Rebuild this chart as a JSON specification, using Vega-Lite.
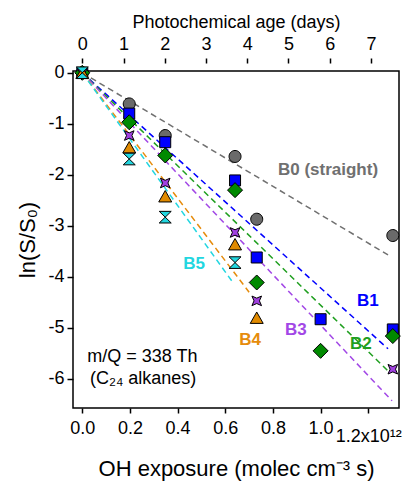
{
  "$schema": "https://vega.github.io/schema/vega-lite/v6.json",
  "width": 326,
  "height": 337,
  "autosize": "none",
  "padding": {"left": 73, "top": 71, "right": 7, "bottom": 74},
  "config": {
    "font": "Liberation Sans",
    "view": {"stroke": "black", "strokeWidth": 1.5},
    "axis": {"grid": false, "domain": false, "tickColor": "black", "labelColor": "black", "titleColor": "black", "tickWidth": 1.5, "titleFontWeight": "normal", "labelFont": "Liberation Sans", "titleFont": "Liberation Sans"}
  },
  "datasets": {
    "points": [
      {"series": "B0", "exposure": 0, "ln": 0},
      {"series": "B0", "exposure": 1.97e11, "ln": -0.61},
      {"series": "B0", "exposure": 3.48e11, "ln": -1.23},
      {"series": "B0", "exposure": 6.41e11, "ln": -1.64},
      {"series": "B0", "exposure": 7.32e11, "ln": -2.87},
      {"series": "B0", "exposure": 1.303e12, "ln": -3.19},
      {"series": "B1", "exposure": 0, "ln": 0},
      {"series": "B1", "exposure": 1.97e11, "ln": -0.8},
      {"series": "B1", "exposure": 3.48e11, "ln": -1.36},
      {"series": "B1", "exposure": 6.41e11, "ln": -2.11},
      {"series": "B1", "exposure": 7.32e11, "ln": -3.62},
      {"series": "B1", "exposure": 1.0e12, "ln": -4.83},
      {"series": "B1", "exposure": 1.303e12, "ln": -5.03},
      {"series": "B2", "exposure": 0, "ln": 0},
      {"series": "B2", "exposure": 1.97e11, "ln": -0.97},
      {"series": "B2", "exposure": 3.48e11, "ln": -1.62},
      {"series": "B2", "exposure": 6.41e11, "ln": -2.3},
      {"series": "B2", "exposure": 7.32e11, "ln": -4.11},
      {"series": "B2", "exposure": 1.0e12, "ln": -5.45},
      {"series": "B2", "exposure": 1.303e12, "ln": -5.16},
      {"series": "B3", "exposure": 0, "ln": 0},
      {"series": "B3", "exposure": 1.97e11, "ln": -1.23},
      {"series": "B3", "exposure": 3.48e11, "ln": -2.16},
      {"series": "B3", "exposure": 6.41e11, "ln": -3.13},
      {"series": "B3", "exposure": 7.32e11, "ln": -4.47},
      {"series": "B3", "exposure": 1.303e12, "ln": -5.81},
      {"series": "B4", "exposure": 0, "ln": 0},
      {"series": "B4", "exposure": 1.97e11, "ln": -1.46},
      {"series": "B4", "exposure": 3.48e11, "ln": -2.42},
      {"series": "B4", "exposure": 6.41e11, "ln": -3.36},
      {"series": "B4", "exposure": 7.32e11, "ln": -4.8},
      {"series": "B5", "exposure": 0, "ln": 0},
      {"series": "B5", "exposure": 1.97e11, "ln": -1.69},
      {"series": "B5", "exposure": 3.48e11, "ln": -2.83},
      {"series": "B5", "exposure": 6.41e11, "ln": -3.72}
    ],
    "fits": [
      {"series": "B0", "exposure": 0, "ln": 0},
      {"series": "B0", "exposure": 1.283e12, "ln": -3.57},
      {"series": "B1", "exposure": 0, "ln": 0},
      {"series": "B1", "exposure": 1.283e12, "ln": -5.41},
      {"series": "B2", "exposure": 0, "ln": 0},
      {"series": "B2", "exposure": 1.291e12, "ln": -5.88},
      {"series": "B3", "exposure": 0, "ln": 0},
      {"series": "B3", "exposure": 1.3e12, "ln": -6.43},
      {"series": "B4", "exposure": 0, "ln": 0},
      {"series": "B4", "exposure": 7.0e11, "ln": -4.3},
      {"series": "B5", "exposure": 0, "ln": 0},
      {"series": "B5", "exposure": 6.32e11, "ln": -4.11}
    ],
    "labels": [
      {"series": "B0", "text": "B0 (straight)", "exposure": 8.21e11, "ln": -1.9},
      {"series": "B1", "text": "B1", "exposure": 1.153e12, "ln": -4.47},
      {"series": "B2", "text": "B2", "exposure": 1.123e12, "ln": -5.32},
      {"series": "B3", "text": "B3", "exposure": 8.51e11, "ln": -5.04},
      {"series": "B4", "text": "B4", "exposure": 6.59e11, "ln": -5.24},
      {"series": "B5", "text": "B5", "exposure": 4.24e11, "ln": -3.74}
    ],
    "notes": [
      {"text": "m/Q = 338 Th", "exposure": 2.1e10, "ln": -5.57},
      {"text": "(C₂₄ alkanes)", "exposure": 3.2e10, "ln": -6.0}
    ]
  },
  "layer": [
    {
      "data": {"name": "fits"},
      "mark": {"type": "line", "strokeDash": [6, 4], "strokeWidth": 1.5},
      "encoding": {
        "x": {
          "field": "exposure", "type": "quantitative",
          "scale": {"domain": [-3.9e10, 1.329e12], "nice": false, "zero": false},
          "axis": {
            "orient": "top", "offset": 8, "tickSize": 5,
            "values": [0, 1.7306e11, 3.4612e11, 5.1918e11, 6.9224e11, 8.653e11, 1.03836e12, 1.21142e12],
            "labelExpr": "format(round(datum.value/1.7306e11), 'd')",
            "labelFontSize": 18, "labelPadding": 5,
            "title": "Photochemical age (days)", "titleFontSize": 18,
            "titleY": -41, "titleBaseline": "middle"
          }
        },
        "y": {
          "field": "ln", "type": "quantitative",
          "scale": {"domain": [-6.57, 0.035], "nice": false, "zero": false},
          "axis": {
            "orient": "left",
            "values": [-6, -5, -4, -3, -2, -1, 0],
            "labelExpr": "datum.value == 0 ? '0' : '-' + abs(datum.value)",
            "tickSize": 6, "labelPadding": 3, "labelFontSize": 18,
            "title": "ln(S/S₀)", "titleFontSize": 22,
            "titleX": -46, "titleBaseline": "middle"
          }
        },
        "stroke": {
          "field": "series", "type": "nominal",
          "scale": {"domain": ["B0", "B1", "B2", "B3", "B4", "B5"], "range": ["#707070", "#0000ff", "#1f9f1f", "#a247e6", "#e68c0c", "#22d6e0"]},
          "legend": null
        }
      }
    },
    {
      "data": {"name": "points"},
      "mark": {"type": "point", "filled": true, "stroke": "black", "strokeWidth": 1, "size": 144, "opacity": 1},
      "encoding": {
        "x": {
          "field": "exposure", "type": "quantitative",
          "scale": {"domain": [-3.9e10, 1.329e12], "nice": false, "zero": false},
          "axis": {
            "orient": "bottom", "tickSize": 5,
            "values": [0, 2e11, 4e11, 6e11, 8e11, 1e12, 1.2e12],
            "labelExpr": "datum.value > 1.1e12 ? '1.2x10¹²' : format(datum.value/1e12, '.1f')",
            "labelFontSize": 18,
            "labelPadding": {"condition": {"test": "datum.value > 1.1e12", "value": 14}, "value": 6},
            "title": "OH exposure (molec cm⁻³ s)", "titleFontSize": 22,
            "titleY": 60, "titleBaseline": "middle"
          }
        },
        "y": {
          "field": "ln", "type": "quantitative",
          "scale": {"domain": [-6.57, 0.035], "nice": false, "zero": false}
        },
        "fill": {
          "field": "series", "type": "nominal",
          "scale": {"domain": ["B0", "B1", "B2", "B3", "B4", "B5"], "range": ["#6a6a6a", "#0000ff", "#008a00", "#a040e0", "#e08a00", "#22d6df"]},
          "legend": null
        },
        "shape": {
          "field": "series", "type": "nominal",
          "scale": {
            "domain": ["B0", "B1", "B2", "B3", "B4", "B5"],
            "range": [
              "M-1,0A1,1,0,1,1,1,0A1,1,0,1,1,-1,0Z",
              "M-0.917,-0.917L0.917,-0.917L0.917,0.917L-0.917,0.917Z",
              "M0,-1.25L1.25,0L0,1.25L-1.25,0Z",
              "M-0.8,-0.8L0,-0.45L0.8,-0.8L0.45,0L0.8,0.8L0,0.45L-0.8,0.8L-0.45,0Z",
              "M0,-0.95L1.08,0.95L-1.08,0.95Z",
              "M-1,-0.97L1,-0.97L-1,0.97L1,0.97Z"
            ]
          },
          "legend": null
        }
      }
    },
    {
      "data": {"name": "labels"},
      "mark": {"type": "text", "align": "left", "baseline": "middle", "fontWeight": "bold", "fontSize": 17},
      "encoding": {
        "x": {"field": "exposure", "type": "quantitative", "scale": {"domain": [-3.9e10, 1.329e12], "nice": false, "zero": false}, "axis": null},
        "y": {"field": "ln", "type": "quantitative", "scale": {"domain": [-6.57, 0.035], "nice": false, "zero": false}},
        "text": {"field": "text"},
        "color": {
          "field": "series", "type": "nominal",
          "scale": {"domain": ["B0", "B1", "B2", "B3", "B4", "B5"], "range": ["#707070", "#0000ff", "#1f9f1f", "#a247e6", "#e68c0c", "#22d6e0"]},
          "legend": null
        }
      }
    },
    {
      "data": {"name": "notes"},
      "mark": {"type": "text", "align": "left", "baseline": "middle", "fontSize": 18, "color": "black"},
      "encoding": {
        "x": {"field": "exposure", "type": "quantitative", "scale": {"domain": [-3.9e10, 1.329e12], "nice": false, "zero": false}, "axis": null},
        "y": {"field": "ln", "type": "quantitative", "scale": {"domain": [-6.57, 0.035], "nice": false, "zero": false}},
        "text": {"field": "text"}
      }
    }
  ],
  "resolve": {"axis": {"x": "independent"}}
}
